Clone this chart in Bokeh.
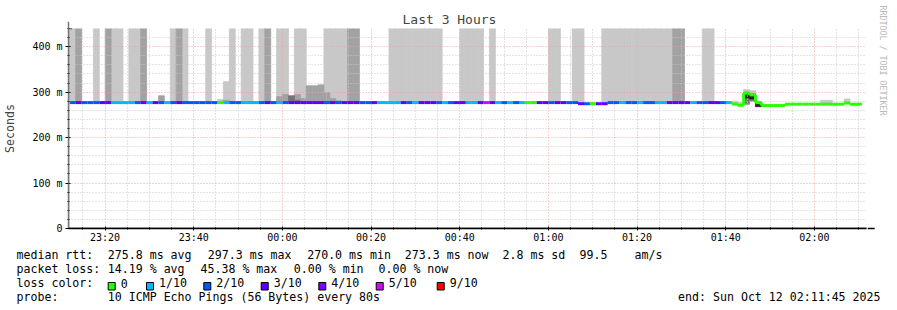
from bokeh.plotting import figure
from bokeh.layouts import column, row
from bokeh.models import Range1d, FixedTicker, Arrow, NormalHead, ColumnDataSource, Title
from bokeh.core.properties import value
from bokeh.embed import file_html
from bokeh.resources import INLINE

# ------------------------------------------------------------------ data
# time axis in minutes after 23:00 (Oct 11); window = last 3 hours
window_start_min = 11.75          # 23:11:45
window_end_min = 191.75           # 02:11:45
first_sample_min = 12 + 2 / 60    # first RRD step start
step_min = 80 / 60                # one probe every 80 s

x_tick_min = [20, 40, 60, 80, 100, 120, 140, 160, 180]
x_tick_labels = ["23:20", "23:40", "00:00", "00:20", "00:40",
                 "01:00", "01:20", "01:40", "02:00"]
x_minor_min = [15, 25, 30, 35, 45, 50, 55, 65, 70, 75, 85, 90, 95, 105, 110, 115,
               125, 130, 135, 145, 150, 155, 165, 170, 175, 185, 190]
y_tick_ms = [0, 100, 200, 300, 400]
y_tick_labels = ["0", "100 m", "200 m", "300 m", "400 m"]
y_minor_ms = [20, 40, 60, 80, 120, 140, 160, 180, 220, 240, 260, 280,
              320, 340, 360, 380, 420, 440]

median_rtt_ms = [
    277, 277, 277, 277, 277, 277, 277, 277, 277, 277,
    277, 277, 277, 277, 277, 277, 277, 277, 277, 277,
    277, 277, 277, 277, 277, 277, 277, 277, 277, 277,
    277, 277, 277, 277, 277, 277, 277, 277, 277, 277,
    277, 277, 277, 277, 277, 277, 277, 277, 277, 277,
    277, 277, 277, 277, 277, 277, 277, 277, 277, 277,
    277, 277, 277, 277, 277, 277, 277, 277, 277, 277,
    277, 277, 277, 277, 277, 277, 277, 277, 277, 277,
    277, 277, 277, 277, 277, 277, 274.5, 274.5, 274.5, 274.5,
    274.5, 277, 277, 277, 277, 277, 277, 277, 277, 277,
    277, 277, 277, 277, 277, 277, 277, 277, 277, 277,
    277, 277, 274, 271, 298, 294, 277, 270.5, 270.5, 270.5,
    270.5, 273.5, 273.5, 273.5, 273.5, 273.5, 273.5, 273.5, 273.5, 273.5,
    273.5, 276, 273.5, 273.5,
]
loss_pings = [
    2, 3, 2, 2, 2, 3, 3, 1, 1, 1,
    1, 2, 3, 1, 3, 2, 1, 2, 3, 2,
    2, 2, 2, 2, 2, 0, 1, 2, 2, 1,
    1, 1, 2, 3, 2, 1, 2, 3, 3, 3,
    3, 3, 3, 2, 3, 2, 3, 3, 3, 2,
    2, 3, 1, 1, 1, 1, 3, 2, 1, 3,
    3, 3, 2, 1, 2, 3, 3, 1, 1, 3,
    5, 3, 1, 2, 1, 2, 1, 0, 0, 3,
    3, 2, 3, 3, 2, 2, 3, 2, 0, 3,
    3, 2, 2, 1, 2, 2, 1, 2, 2, 1,
    1, 3, 3, 3, 3, 1, 2, 2, 3, 3,
    2, 1, 0, 0, 0, 0, 0, 0, 0, 0,
    0, 0, 0, 0, 0, 0, 0, 0, 0, 0,
    0, 0, 0, 0,
]

OFF = 1000  # ping far above the chart top
# smoke bands: sample index, low ms, high ms
smoke_light_sample = [0, 4, 7, 8, 10, 11, 17, 19, 23, 27, 29, 30, 32, 35, 36, 38, 39,
                      43, 44, 45, 46, 54, 55, 56, 57, 58, 59, 60, 61, 62, 66, 67, 68,
                      69, 71, 81, 82, 85, 86, 90, 91, 92, 93, 94, 95, 96, 97, 98, 99,
                      100, 101, 107, 108,
                      25, 26, 112, 113, 114, 115, 127, 128, 131]
smoke_light_low = [
    277, 277, 277, 277, 277, 277, 277, 277, 277, 277, 277, 277, 277, 277, 277, 277, 277,
    277, 277, 277, 277, 277, 277, 277, 277, 277, 277, 277, 277, 277, 277, 277, 277,
    277, 277, 277, 277, 277, 274.5, 274.5, 277, 277, 277, 277, 277, 277, 277, 277, 277,
    277, 277, 277, 277,
    277, 277, 274, 271, 273, 280, 273.5, 273.5, 276]
smoke_light_high = [
    OFF, OFF, OFF, OFF, OFF, OFF, OFF, OFF, OFF, OFF, OFF, OFF, OFF, OFF, OFF, OFF, OFF,
    OFF, OFF, OFF, OFF, OFF, OFF, OFF, OFF, OFF, OFF, OFF, OFF, OFF, OFF, OFF, OFF,
    OFF, OFF, OFF, OFF, OFF, OFF, OFF, OFF, OFF, OFF, OFF, OFF, OFF, OFF, OFF, OFF,
    OFF, OFF, OFF, OFF,
    284, 323, 280, 277, 306, 303, 282, 282, 285]

smoke_mid_sample = [1, 6, 12, 18, 33, 47, 48, 102, 103,
                    15, 26, 35, 36, 38, 39, 40, 41, 42, 43, 44, 45, 114, 115]
smoke_mid_low = [277, 277, 277, 277, 277, 277, 277, 277, 277,
                 277, 277, 277, 277, 277, 277, 277, 277, 277, 277, 277, 277, 273, 280]
smoke_mid_high = [OFF, OFF, OFF, OFF, OFF, OFF, OFF, OFF, OFF,
                  292, 282, 290, 295, 295, 286, 314, 314, 316, 299, 286, 281, 300, 297]

smoke_dark_sample = [37, 38, 114, 115]
smoke_dark_low = [277, 277, 276, 282]
smoke_dark_high = [292, 282, 298, 295]

smoke_black_sample = [114, 115, 116]
smoke_black_low = [287, 285, 268]
smoke_black_high = [298, 292, 277]

loss_colors = {0: "#26ff00", 1: "#00b8ff", 2: "#0059ff", 3: "#5e00ff",
               4: "#7e00ff", 5: "#dd00ff", 9: "#ff0000"}
legend_loss = [0, 1, 2, 3, 4, 5, 9]
legend_loss_labels = ["0", "1/10", "2/10", "3/10", "4/10", "5/10", "9/10"]

rtt_pieces = ["median rtt:", "275.8 ms avg", "297.3 ms max", "270.0 ms min",
              "273.3 ms now", "2.8 ms sd", "99.5", "am/s"]
loss_pieces = ["packet loss:", "14.19 % avg", "45.38 % max", "0.00 % min", "0.00 % now"]
loss_head = "loss color:"
probe_pieces = ["probe:", "10 ICMP Echo Pings (56 Bytes) every 80s"]
end_text = "end: Sun Oct 12 02:11:45 2025"
title_text = "Last 3 Hours"
y_label = "Seconds"
credit_text = "RRDTOOL / TOBI OETIKER"

# ------------------------------------------------------------------ layout
W, H = 897, 310
MAIN_H = 248
FRAME_LEFT, FRAME_RIGHT, FRAME_TOP, FRAME_BOTTOM = 66, 866, 28, 228
MONO = "DejaVu Sans Mono"
NB = "\u00a0"

p = figure(width=W, height=MAIN_H, output_backend="svg", toolbar_location=None,
           x_range=Range1d(window_start_min, window_end_min),
           y_range=Range1d(0, 440),
           min_border_left=FRAME_LEFT, min_border_right=W - FRAME_RIGHT,
           min_border_top=FRAME_TOP, min_border_bottom=MAIN_H - FRAME_BOTTOM,
           background_fill_color="white", border_fill_color="white",
           outline_line_color=None)

# title
p.title.text = title_text
p.title.text_font = MONO
p.title.text_font_size = "13px"
p.title.text_font_style = "normal"
p.title.align = "left"
p.title.offset = 400 - FRAME_LEFT
p.title.standoff = 4

# credit along the right edge
p.add_layout(Title(text=credit_text, align="left", offset=-23, standoff=18,
                   vertical_align="top", text_font=MONO, text_font_size="8.3px",
                   text_font_style="normal", text_color="#b8b8b8"), "right")

# axes
xa = p.xaxis[0]
xa.ticker = FixedTicker(ticks=x_tick_min, minor_ticks=x_minor_min)
xa.major_label_overrides = {t: l for t, l in zip(x_tick_min, x_tick_labels)}
ya = p.yaxis[0]
ya.ticker = FixedTicker(ticks=y_tick_ms, minor_ticks=y_minor_ms)
ya.major_label_overrides = {t: l for t, l in zip(y_tick_ms, y_tick_labels)}
ya.axis_label = y_label
ya.axis_label_text_font = MONO
ya.axis_label_text_font_size = "11.6px"
ya.axis_label_text_font_style = "normal"
ya.axis_label_standoff = 12
for ax in (xa, ya):
    ax.major_label_text_font = MONO
    ax.major_label_text_font_size = "10px"
    ax.major_label_text_color = "black"
    ax.major_tick_in = 2
    ax.major_tick_out = 3
    ax.minor_tick_in = 1
    ax.minor_tick_out = 1
    ax.major_label_standoff = 3
xa.major_tick_out = 2
xa.major_label_standoff = 1
xa.axis_line_color = "black"
xa.axis_line_width = 1.5
ya.axis_line_color = "#777777"
ya.axis_line_width = 1.5

# grid
for g, ticks, minor in ((p.xgrid[0], x_tick_min, x_minor_min),
                        (p.ygrid[0], y_tick_ms, y_minor_ms)):
    g.ticker = FixedTicker(ticks=ticks, minor_ticks=minor)
    g.grid_line_color = "#f0a0a0"
    g.grid_line_dash = "1 2"
    g.grid_line_width = 1
    g.minor_grid_line_color = "#c8c8c8"
    g.minor_grid_line_dash = "1 2"
    g.level = "glyph"


# smoke
def band_source(samples, low, high):
    return ColumnDataSource(dict(
        left=[first_sample_min + s * step_min for s in samples],
        right=[first_sample_min + (s + 1) * step_min for s in samples],
        bottom=low, top=high))


for samples, low, high, shade in (
        (smoke_light_sample, smoke_light_low, smoke_light_high, "#c8c8c8"),
        (smoke_mid_sample, smoke_mid_low, smoke_mid_high, "#a2a2a2"),
        (smoke_dark_sample, smoke_dark_low, smoke_dark_high, "#747474"),
        (smoke_black_sample, smoke_black_low, smoke_black_high, "#262626")):
    p.quad(left="left", right="right", bottom="bottom", top="top",
           source=band_source(samples, low, high),
           fill_color=shade, line_color=shade, line_width=0.8, level="underlay")

# median line coloured by loss
n = len(median_rtt_ms)
t0 = [first_sample_min + i * step_min for i in range(n)]
t1 = [first_sample_min + (i + 1) * step_min for i in range(n)]
seg = dict(x0=[], y0=[], x1=[], y1=[], c=[])
for i in range(n):
    col = loss_colors[loss_pings[i]]
    if i > 0 and median_rtt_ms[i] != median_rtt_ms[i - 1]:
        seg["x0"].append(t0[i]); seg["x1"].append(t0[i])
        seg["y0"].append(median_rtt_ms[i - 1]); seg["y1"].append(median_rtt_ms[i])
        seg["c"].append(col)
    seg["x0"].append(t0[i]); seg["x1"].append(t1[i])
    seg["y0"].append(median_rtt_ms[i]); seg["y1"].append(median_rtt_ms[i])
    seg["c"].append(col)
p.segment(x0="x0", y0="y0", x1="x1", y1="y1", line_color="c", line_width=3,
          line_cap="butt", source=ColumnDataSource(seg), level="annotation")

# axis arrows
ARROW = "#8b1a1a"
p.add_layout(Arrow(end=NormalHead(size=7, fill_color=ARROW, line_color=ARROW),
                   x_start=window_start_min, y_start=0, x_end=window_start_min, y_end=455,
                   line_color="#777777", line_width=1.5))
p.add_layout(Arrow(end=NormalHead(size=7, fill_color=ARROW, line_color=ARROW),
                   x_start=window_start_min, y_start=0, x_end=193.6, y_end=0,
                   line_color="black", line_width=1.5))

# ---------------- legend strip below
LEG_H = H - MAIN_H
leg = figure(width=W, height=LEG_H, output_backend="svg", toolbar_location=None,
             title=None, x_range=Range1d(0, W), y_range=Range1d(LEG_H, 0),
             min_border=0, outline_line_color=None,
             background_fill_color="white", border_fill_color="white")
leg.axis.visible = False
leg.grid.visible = False

row_base = [254, 268, 282.5, 296.5]
rtt_x = [16, 107.3, 207.3, 306.7, 404.3, 502, 579, 634]
loss_x = [16, 107.3, 200, 293.3, 378]
probe_x = [16, 107.3]
sq_x = [107.7, 146, 203.3, 260.7, 318.3, 375.7, 436.7]

texts, xs, ys = [], [], []
for pieces, px, base in ((rtt_pieces, rtt_x, row_base[0]),
                         (loss_pieces, loss_x, row_base[1]),
                         ([loss_head], [16], row_base[2]),
                         (legend_loss_labels, [xx + 12.5 for xx in sq_x], row_base[2]),
                         (probe_pieces, probe_x, row_base[3])):
    for s, xx in zip(pieces, px):
        texts.append(s.replace(" ", NB)); xs.append(xx); ys.append(base - MAIN_H)
leg.text(x=xs, y=ys, text=texts,
         text_font=value(MONO), text_font_size=value("11.6px"), text_color="black",
         text_align="left", text_baseline="alphabetic")
leg.text(x=[880], y=[row_base[3] - MAIN_H], text=[end_text.replace(" ", NB)],
         text_font=value(MONO), text_font_size=value("11.6px"), text_color="black",
         text_align="right", text_baseline="alphabetic")
leg.quad(left=sq_x, right=[xx + 7 for xx in sq_x],
         top=[282 - MAIN_H] * len(sq_x), bottom=[289.5 - MAIN_H] * len(sq_x),
         fill_color=[loss_colors[c] for c in legend_loss], line_color="black", line_width=1)

layout = column(row(p, spacing=0), leg, spacing=0)
open("out.html", "w").write(file_html(layout, INLINE))
